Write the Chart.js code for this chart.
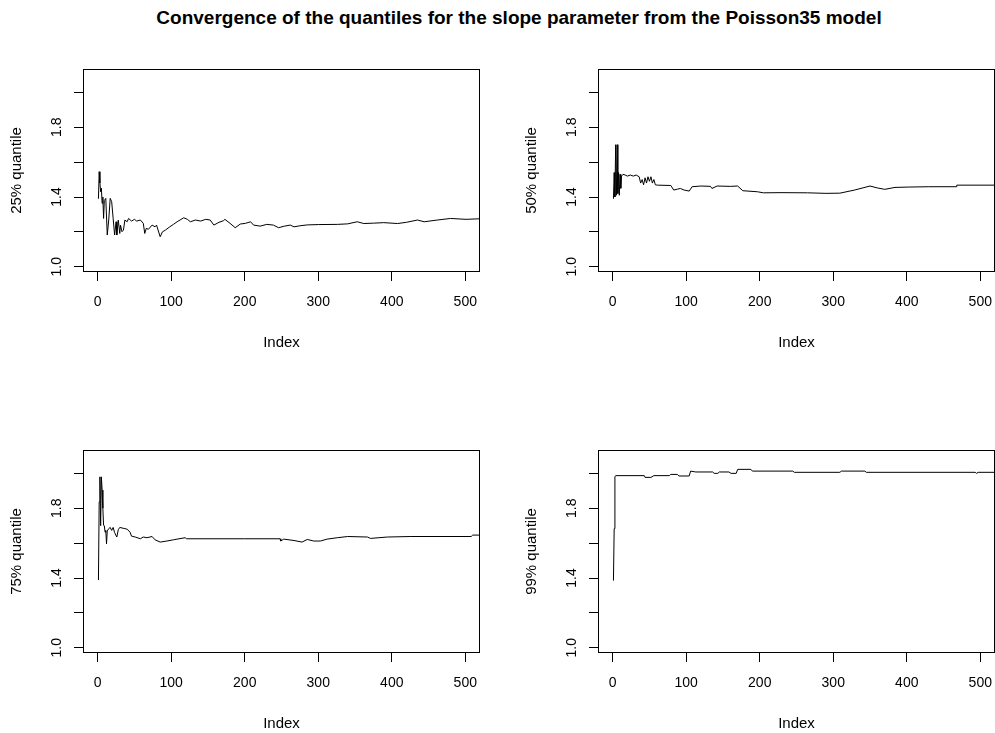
<!DOCTYPE html>
<html>
<head>
<meta charset="utf-8">
<script src="https://cdn.jsdelivr.net/npm/chart.js@4.4.0/dist/chart.umd.min.js"></script>
<style>
  html, body { margin: 0; padding: 0; background: #fff; overflow: hidden; }
  #title {
    position: absolute; left: 519px; top: 7px; transform: translateX(-50%);
    white-space: nowrap; font: bold 19px "Liberation Sans", Arial, sans-serif; color: #000;
  }
  .panel { position: absolute; }
</style>
</head>
<body>
<div id="title">Convergence of the quantiles for the slope parameter from the Poisson35 model</div>
<div class="panel" style="left:0px;top:60px"><canvas id="p25" width="480" height="302"></canvas></div>
<div class="panel" style="left:515px;top:60px"><canvas id="p50" width="480" height="302"></canvas></div>
<div class="panel" style="left:0px;top:441px"><canvas id="p75" width="480" height="302"></canvas></div>
<div class="panel" style="left:515px;top:441px"><canvas id="p99" width="480" height="302"></canvas></div>
<script>
// axis ticks (R style: ticks every 0.2, labels only on some)
const xTicks = [0, 100, 200, 300, 400, 500];
const yTicks = [1.0, 1.2, 1.4, 1.6, 1.8, 2.0];
const yLabels = [1.0, 1.4, 1.8];

// 25% quantile (index, value)
const q25Index = [1, 2, 3, 4, 5, 6, 7, 8, 9, 11, 13, 15, 17, 19, 21, 23, 25, 26, 28, 30,
  31, 33, 35, 37, 40, 42, 46, 50, 53, 58, 62, 64, 66, 69, 74, 78, 80, 85, 88, 92,
  98, 103, 108, 112, 117, 122, 126, 133, 140, 147, 153, 158, 165, 171, 173, 180, 187, 194, 201, 208,
  212, 221, 230, 239, 246, 254, 262, 267, 275, 285, 300, 326, 340, 353, 362, 375, 389, 408, 420, 435,
  444, 462, 480, 501, 530];
const q25Value = [1.39, 1.545, 1.48, 1.43, 1.45, 1.364, 1.40, 1.277, 1.38, 1.392, 1.182, 1.268, 1.392, 1.373, 1.277, 1.182, 1.258, 1.182, 1.268, 1.191,
  1.239, 1.201, 1.21, 1.268, 1.258, 1.277, 1.262, 1.272, 1.262, 1.268, 1.249, 1.191, 1.22, 1.215, 1.239, 1.229, 1.239, 1.172, 1.20, 1.21,
  1.229, 1.243, 1.258, 1.268, 1.281, 1.272, 1.258, 1.268, 1.262, 1.272, 1.268, 1.239, 1.255, 1.264, 1.272, 1.249, 1.224, 1.245, 1.249, 1.258,
  1.239, 1.233, 1.243, 1.239, 1.224, 1.233, 1.239, 1.229, 1.235, 1.24, 1.242, 1.243, 1.246, 1.258, 1.248, 1.25, 1.253, 1.248, 1.255, 1.268,
  1.258, 1.268, 1.277, 1.272, 1.277];

// 50% quantile
const q50Index = [1, 2, 3, 4, 5, 6, 7, 8, 9, 10, 11, 12, 14, 17, 20, 24, 28, 32, 36, 38,
  40, 42, 44, 46, 48, 50, 52, 54, 56, 58, 61, 79, 83, 88, 92, 97, 104, 108, 120, 133,
  135, 142, 160, 170, 177, 197, 205, 229, 265, 290, 309, 329, 350, 360, 370, 384, 402, 430, 467, 468,
  530];
const q50Value = [1.39, 1.54, 1.40, 1.70, 1.41, 1.70, 1.42, 1.54, 1.41, 1.53, 1.45, 1.52, 1.53, 1.526, 1.52, 1.526, 1.52, 1.526, 1.516, 1.48,
  1.50, 1.47, 1.51, 1.48, 1.516, 1.49, 1.516, 1.48, 1.50, 1.47, 1.468, 1.466, 1.44, 1.445, 1.449, 1.44, 1.434, 1.459, 1.463, 1.461,
  1.449, 1.463, 1.461, 1.463, 1.436, 1.43, 1.424, 1.425, 1.424, 1.421, 1.422, 1.44, 1.463, 1.452, 1.444, 1.455, 1.457, 1.459, 1.459, 1.468,
  1.468];

// 75% quantile
const q75Index = [1, 2, 3, 4, 5, 6, 7, 8, 9, 10, 11, 12, 13, 15, 17, 19, 21, 23, 26, 28,
  30, 33, 37, 40, 44, 46, 51, 58, 62, 67, 74, 78, 85, 94, 103, 108, 119, 121, 200, 248,
  249, 253, 267, 278, 285, 294, 303, 312, 326, 340, 367, 371, 394, 426, 508, 510, 530];
const q75Value = [1.388, 1.837, 1.98, 1.70, 1.98, 1.904, 1.80, 1.702, 1.70, 1.663, 1.673, 1.596, 1.67, 1.683, 1.69, 1.673, 1.69, 1.66, 1.635, 1.677,
  1.69, 1.687, 1.683, 1.68, 1.663, 1.64, 1.635, 1.625, 1.635, 1.631, 1.638, 1.619, 1.606, 1.612, 1.619, 1.623, 1.631, 1.625, 1.625, 1.625,
  1.612, 1.623, 1.615, 1.606, 1.621, 1.612, 1.612, 1.623, 1.631, 1.638, 1.635, 1.627, 1.635, 1.638, 1.638, 1.646, 1.646];

// 99% quantile
const q99Index = [1, 2, 3, 4, 43, 44, 52, 56, 77, 79, 88, 90, 104, 106, 113, 136, 138, 143, 145, 158,
  161, 168, 170, 188, 190, 245, 247, 309, 311, 343, 345, 493, 495, 497, 530];
const q99Value = [1.385, 1.683, 1.98, 1.987, 1.987, 1.977, 1.977, 1.987, 1.987, 1.994, 1.994, 1.985, 1.985, 2.013, 2.008, 2.008, 2.0, 2.0, 2.008, 2.008,
  2.0, 2.0, 2.023, 2.023, 2.013, 2.013, 2.006, 2.006, 2.013, 2.013, 2.006, 2.006, 2.0, 2.006, 2.006];

Chart.defaults.font.family = '"Liberation Sans", Arial, sans-serif';
Chart.defaults.color = '#000';

// draws the R-style box and the rotated y labels
const boxPlugin = {
  id: 'rbox',
  afterDraw(chart) {
    const { ctx, chartArea: a, scales } = chart;
    ctx.save();
    ctx.strokeStyle = '#000';
    ctx.lineWidth = 1;
    ctx.strokeRect(Math.round(a.left) + 0.5, Math.round(a.top) + 0.5,
      Math.round(a.right - a.left) - 1, Math.round(a.bottom - a.top) - 1);
    ctx.font = '14px "Liberation Sans", Arial, sans-serif';
    ctx.fillStyle = '#000';
    ctx.textAlign = 'center';
    ctx.textBaseline = 'middle';
    yLabels.forEach(v => {
      const y = scales.y.getPixelForValue(v);
      ctx.save();
      ctx.translate(a.left - 26, y);
      ctx.rotate(-Math.PI / 2);
      ctx.fillText(v.toFixed(1), 0, 0);
      ctx.restore();
    });
    ctx.restore();
  }
};

function makePanel(id, idx, vals, yTitle) {
  const points = idx.map((x, k) => ({ x: x, y: vals[k] }));
  const grid = { drawOnChartArea: false, drawTicks: true, tickLength: 9, color: '#000', tickColor: '#000' };
  return new Chart(document.getElementById(id), {
    type: 'line',
    data: {
      datasets: [{ data: points, borderColor: '#000', borderWidth: 1, pointRadius: 0, tension: 0, fill: false }]
    },
    options: {
      responsive: false,
      animation: false,
      devicePixelRatio: 1,
      layout: { padding: { top: 9, left: 0, right: 0, bottom: 0 } },
      plugins: { legend: { display: false }, tooltip: { enabled: false } },
      scales: {
        x: {
          type: 'linear', min: -20, max: 520,
          afterBuildTicks: s => { s.ticks = xTicks.map(v => ({ value: v })); },
          afterFit: s => { s.height = 90; s.paddingLeft = 0; s.paddingRight = 0; },
          ticks: { font: { size: 14 }, color: '#000', padding: 13, maxRotation: 0, autoSkip: false },
          grid: grid,
          border: { display: false },
          title: { display: true, text: 'Index', font: { size: 15 }, color: '#000', padding: { top: 0, bottom: 10 } }
        },
        y: {
          type: 'linear', min: 0.97, max: 2.134,
          afterBuildTicks: s => { s.ticks = yTicks.map(v => ({ value: v })); },
          afterFit: s => { s.width = 83; s.paddingTop = 0; s.paddingBottom = 0; },
          ticks: { display: false },
          grid: grid,
          border: { display: false },
          title: { display: true, text: yTitle, font: { size: 15 }, color: '#000', padding: { top: 8, bottom: 0 } }
        }
      }
    },
    plugins: [boxPlugin]
  });
}

makePanel('p25', q25Index, q25Value, '25% quantile');
makePanel('p50', q50Index, q50Value, '50% quantile');
makePanel('p75', q75Index, q75Value, '75% quantile');
makePanel('p99', q99Index, q99Value, '99% quantile');
</script>
</body>
</html>
